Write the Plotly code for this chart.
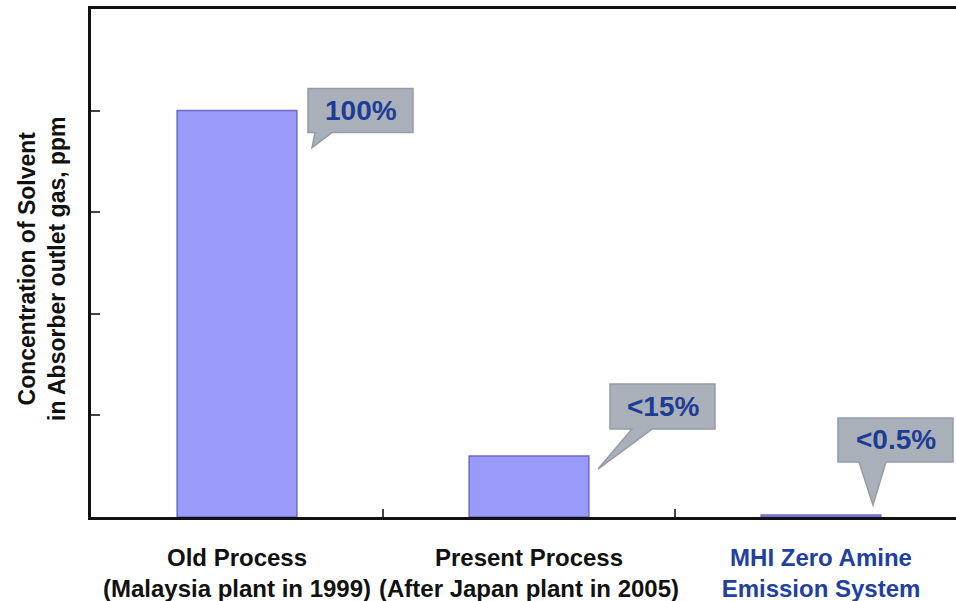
import plotly.graph_objects as go

# ---- data ----
categories = ["Old Process", "Present Process", "MHI Zero Amine"]
tick_line1 = ["Old Process", "Present Process", "MHI Zero Amine"]
tick_line2 = ["(Malaysia plant in 1999)", "(After Japan plant in 2005)", "Emission System"]
tick_colors = ["#111111", "#111111", "#2140A0"]
values = [100, 15, 0.5]            # % of old-process concentration
callout_labels = ["100%", "<15%", "<0.5%"]

# ---- layout constants (pixels) ----
W, H = 956, 601
ML, MR, MT, MB = 91, 0, 9, 84
plot_w = W - ML - MR
plot_h = H - MT - MB
cat_px = 292.0
x_range = [-0.5, -0.5 + plot_w / cat_px]
y_range = [0, 125]
px_per_unit = plot_h / (y_range[1] - y_range[0])

# callout offsets relative to bar top-centre, in pixels (style only)
# (box_left, box_right, box_top, box_bottom, base_left, base_right, tip_x, tip_y)
callout_px = [
    (71, 176, -22, 22, 78, 95, 75, 37),
    (81, 186, -72, -27, 103, 123, 69, 13),
    (17, 132, -97, -53, 38, 65, 52, -10),
]

def dx(p):
    return p / cat_px

def dy(p):
    return -p / px_per_unit

ticktext = [
    f"<span style='color:{c}'>{a}<br>{b}</span>"
    for a, b, c in zip(tick_line1, tick_line2, tick_colors)
]

fig = go.Figure()
fig.add_trace(go.Bar(
    x=categories,
    y=values,
    width=0.41,
    marker=dict(color="#9A9AFB", line=dict(color="#6B6BC6", width=1.5)),
    hoverinfo="skip",
))

shapes = []
annotations = []
for i, (v, lab, c) in enumerate(zip(values, callout_labels, callout_px)):
    bl, br, bt, bb, sl, sr, tx, ty = c
    X = lambda p: i + dx(p)
    Y = lambda p: v + dy(p)
    path = (f"M {X(bl)},{Y(bt)} L {X(br)},{Y(bt)} L {X(br)},{Y(bb)} "
            f"L {X(sr)},{Y(bb)} L {X(tx)},{Y(ty)} L {X(sl)},{Y(bb)} "
            f"L {X(bl)},{Y(bb)} Z")
    shapes.append(dict(type="path", path=path, xref="x", yref="y",
                       fillcolor="#A9B0BA", line=dict(color="#959CA6", width=1.5),
                       layer="above"))
    annotations.append(dict(x=X((bl + br) / 2), y=Y((bt + bb) / 2), xref="x", yref="y",
                            text=lab, showarrow=False,
                            font=dict(family="Liberation Sans", size=28, color="#1E3C96",
                                      weight="bold"),
                            xanchor="center", yanchor="middle"))

# y-axis title
annotations.append(dict(
    x=(42 - ML) / plot_w, y=(H - MB - 269) / plot_h, xref="paper", yref="paper",
    text="Concentration of Solvent<br>in Absorber outlet gas, ppm",
    textangle=-90, showarrow=False, xanchor="center", yanchor="middle",
    font=dict(family="Liberation Sans", size=23, color="#111111", weight="bold"),
))

fig.update_layout(
    width=W, height=H,
    margin=dict(l=ML, r=MR, t=MT, b=MB, pad=0, autoexpand=False),
    paper_bgcolor="white", plot_bgcolor="white",
    showlegend=False,
    shapes=shapes, annotations=annotations,
    font=dict(family="Liberation Sans"),
    xaxis=dict(
        type="category", range=x_range, automargin=False, tickangle=0,
        tickmode="array", tickvals=categories,
        ticktext=ticktext, tickson="boundaries", ticks="inside", ticklen=8,
        tickwidth=1.5, tickcolor="#444444",
        showline=True, linecolor="#111111", linewidth=3, mirror=True,
        showgrid=False, zeroline=False,
        tickfont=dict(family="Liberation Sans", size=24, color="#111111", weight="bold"),
        ticklabelstandoff=17,
    ),
    yaxis=dict(
        range=y_range, dtick=25, ticks="inside", ticklen=9, tickwidth=1.5,
        tickcolor="#444444", showticklabels=False, automargin=False,
        showline=True, linecolor="#111111", linewidth=3,
        showgrid=False, zeroline=False,
    ),
)

fig.write_html("out.html")
